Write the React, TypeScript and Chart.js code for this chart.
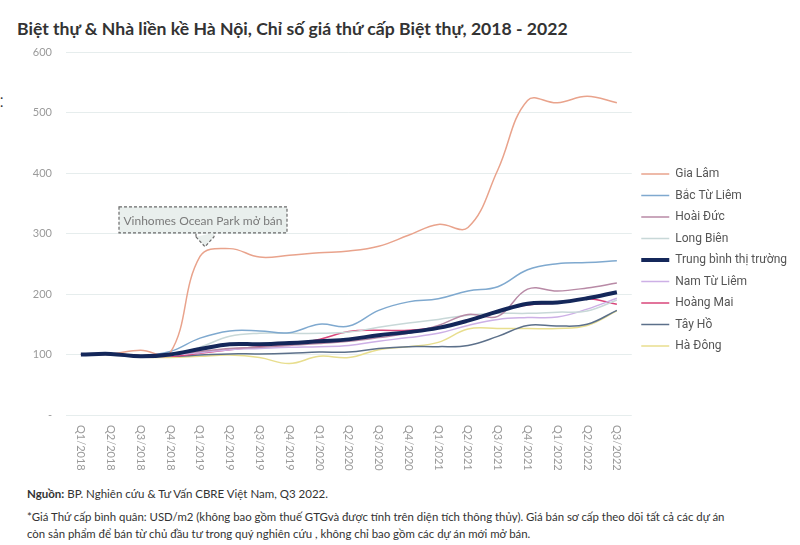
import { useEffect, useRef } from 'react';
import { Chart, registerables } from 'chart.js';

Chart.register(...registerables);

const LABELS = ['Q1/2018','Q2/2018','Q3/2018','Q4/2018','Q1/2019','Q2/2019','Q3/2019','Q4/2019','Q1/2020','Q2/2020','Q3/2020','Q4/2020','Q1/2021','Q2/2021','Q3/2021','Q4/2021','Q1/2022','Q2/2022','Q3/2022'];

const GIA_LAM = [100, 101, 107, 103, 262, 275, 261, 264, 268, 271, 279, 297, 315, 310, 405, 520, 516, 527, 516];
const BAC_TU_LIEM = [100, 101, 98, 105, 127, 139, 139, 136, 150, 147, 173, 187, 192, 205, 212, 240, 250, 252, 255];
const HOAI_DUC = [100, 100, 97, 100, 105, 110, 112, 115, 118, 122, 128, 135, 148, 166, 163, 208, 205, 210, 218];
const LONG_BIEN = [100, 100, 97, 98, 112, 130, 135, 135, 135, 137, 145, 152, 158, 165, 168, 168, 170, 172, 190];
const TRUNG_BINH = [100, 101, 97, 100, 109, 117, 117, 119, 122, 125, 132, 137, 144, 156, 171, 184, 186, 193, 203];
const NAM_TU_LIEM = [100, 100, 97, 99, 103, 108, 110, 112, 113, 115, 122, 128, 135, 148, 158, 161, 162, 175, 193];
const HOANG_MAI = [100, 101, 98, 97, 102, 108, 113, 116, 125, 138, 140, 140, 145, 157, 172, 182, 185, 192, 183];
const TAY_HO = [100, 101, 98, 97, 99, 101, 101, 102, 104, 104, 110, 113, 113, 115, 130, 148, 147, 150, 173];
const HA_DONG = [100, 100, 96, 95, 97, 99, 95, 85, 97, 95, 108, 113, 120, 142, 143, 143, 143, 148, 172];

const SERIES_NAMES = ['Gia Lâm','Bắc Từ Liêm','Hoài Đức','Long Biên','Trung bình thị trường','Nam Từ Liêm','Hoàng Mai','Tây Hồ','Hà Đông'];
const SERIES_VALUES = [GIA_LAM, BAC_TU_LIEM, HOAI_DUC, LONG_BIEN, TRUNG_BINH, NAM_TU_LIEM, HOANG_MAI, TAY_HO, HA_DONG];
const SERIES_COLORS = ['#E9A38C','#7FA9CF','#B88AA6','#C8D8D8','#14275A','#CDB0E6','#D9467A','#5C708A','#E8DE8E'];

const Y_TICKS = [0, 100, 200, 300, 400, 500, 600];
const ANNOTATION_TEXT = 'Vinhomes Ocean Park mở bán';
const ANNOTATION_INDEX = 4;
const ANNOTATION_VALUE = 278;

const CHART_FONT = 'Lato';

const customPlugin = {
  id: 'customDraw',
  afterDraw(chart: any) {
    const ctx = chart.ctx;
    const xs = chart.scales.x;
    const ys = chart.scales.y;
    ctx.save();
    ctx.fillStyle = '#9a9a9a';
    ctx.font = `11px ${CHART_FONT}`;
    ctx.textAlign = 'left';
    ctx.textBaseline = 'middle';
    LABELS.forEach((lab, i) => {
      const x = xs.getPixelForTick(i);
      ctx.save();
      ctx.translate(x, ys.bottom + 10);
      ctx.rotate(Math.PI / 2);
      ctx.fillText(lab, 0, 0);
      ctx.restore();
    });
    ctx.restore();

    const tipX = xs.getPixelForValue(ANNOTATION_INDEX) + 5;
    const tipY = ys.getPixelForValue(ANNOTATION_VALUE);
    const w = 168, h = 26;
    const bottom = tipY - 14;
    const top = bottom - h;
    const left = tipX - 86;
    ctx.save();
    ctx.fillStyle = '#E9EFED';
    ctx.strokeStyle = '#6b6b6b';
    ctx.lineWidth = 1.2;
    ctx.setLineDash([3, 2]);
    ctx.beginPath();
    ctx.rect(left, top, w, h);
    ctx.fill();
    ctx.stroke();
    ctx.beginPath();
    ctx.moveTo(tipX - 9, bottom + 4);
    ctx.lineTo(tipX, tipY);
    ctx.lineTo(tipX + 9, bottom + 4);
    ctx.lineTo(tipX + 9, bottom);
    ctx.moveTo(tipX - 9, bottom + 4);
    ctx.lineTo(tipX - 9, bottom);
    ctx.fill();
    ctx.stroke();
    ctx.setLineDash([]);
    ctx.fillStyle = '#7a7a7a';
    ctx.font = `12px ${CHART_FONT}`;
    ctx.textAlign = 'center';
    ctx.textBaseline = 'middle';
    ctx.fillText(ANNOTATION_TEXT, left + w / 2, top + h / 2 + 1);
    ctx.restore();
  },
};

export default function App() {
  const ref = useRef<HTMLCanvasElement>(null);
  useEffect(() => {
    document.body.style.margin = '0';
    if (!ref.current) return;
    const chart = new Chart(ref.current, {
      type: 'line',
      data: {
        labels: LABELS,
        datasets: SERIES_NAMES.map((name, i) => ({
          label: name,
          data: SERIES_VALUES[i],
          borderColor: SERIES_COLORS[i],
          backgroundColor: SERIES_COLORS[i],
          borderWidth: i === 4 ? 4 : 1.5,
          pointRadius: 0,
          tension: 0.4,
          order: i === 4 ? 0 : 1,
        })),
      },
      options: {
        animation: false,
        responsive: false,
        maintainAspectRatio: false,
        layout: { padding: { top: 0, left: 0, right: 3, bottom: 0 } },
        plugins: {
          legend: {
            position: 'right',
            align: 'center',
            labels: {
              usePointStyle: true,
              pointStyle: 'line',
              pointStyleWidth: 28,
              padding: 9.5,
              color: '#555',
              font: { family: 'Roboto', size: 12 },
              sort: (a: any, b: any) => a.datasetIndex - b.datasetIndex,
            },
          },
          tooltip: { enabled: false },
        },
        scales: {
          x: {
            type: 'category',
            offset: true,
            grid: { display: false },
            border: { display: false },
            ticks: { display: false },
            afterFit: (s: any) => { s.height = 65; },
          },
          y: {
            min: 0,
            max: 600,
            grid: { color: '#E6EDED', drawTicks: false, lineWidth: 1 },
            border: { display: false },
            afterBuildTicks: (s: any) => { s.ticks = Y_TICKS.map((v) => ({ value: v })); },
            ticks: {
              padding: 14,
              color: '#9a9a9a',
              font: { family: CHART_FONT, size: 11 },
              callback: (v: any) => (v === 0 ? '-' : String(v)),
            },
            afterFit: (s: any) => { s.width = 66; s.paddingTop = 12; s.paddingBottom = 0; },
          },
        },
      },
      plugins: [customPlugin],
    });
    return () => chart.destroy();
  }, []);

  return (
    <div style={{ position: 'relative', width: 800, height: 545, background: '#fff', overflow: 'hidden' }}>
      <div style={{ position: 'absolute', left: 17, top: 18, font: `bold 17.6px Lato`, color: '#333', whiteSpace: 'nowrap' }}>
        Biệt thự &amp; Nhà liền kề Hà Nội, Chỉ số giá thứ cấp Biệt thự, 2018 - 2022
      </div>
      <div style={{ position: 'absolute', left: 0, top: 90, font: '14px Lato', color: '#333', lineHeight: '8px' }}>.<br />.</div>
      <canvas ref={ref} width={800} height={440} style={{ position: 'absolute', left: 0, top: 40, width: 800, height: 440 }} />
      <div style={{ position: 'absolute', left: 27, top: 487, font: '11.5px Lato', color: '#333', whiteSpace: 'nowrap' }}>
        <b>Nguồn:</b> BP. Nghiên cứu &amp; Tư Vấn CBRE Việt Nam, Q3 2022.
      </div>
      <div style={{ position: 'absolute', left: 27, top: 508, font: '11.4px Lato', color: '#333', lineHeight: '17px', whiteSpace: 'nowrap' }}>
        *Giá Thứ cấp bình quân: USD/m2 (không bao gồm thuế GTGvà được tính trên diện tích thông thủy). Giá bán sơ cấp theo dõi tất cả các dự án<br />
        còn sản phẩm để bán từ chủ đầu tư trong quý nghiên cứu , không chỉ bao gồm các dự án mới mở bán.
      </div>
    </div>
  );
}
